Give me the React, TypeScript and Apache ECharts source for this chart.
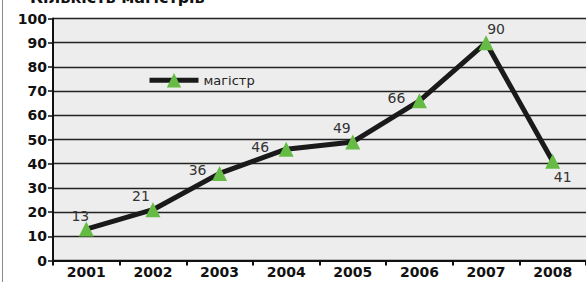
import React, { useEffect, useRef } from "react";
import * as echarts from "echarts";

const categories = ["2001", "2002", "2003", "2004", "2005", "2006", "2007", "2008"];
const values = [13, 21, 36, 46, 49, 66, 90, 41];
const labelOffsets: [number, number][] = [
  [-6, -13],
  [-12, -14],
  [-22, -3],
  [-26, -2],
  [-11, -14],
  [-23, -3],
  [10, -14],
  [10, 16],
];
const seriesName = "магістр";
const titleText = "Кількість магістрів";
const FONT = "DejaVu Sans, Liberation Sans, Arial, sans-serif";

export default function App() {
  const ref = useRef<HTMLDivElement>(null);
  useEffect(() => {
    if (!ref.current) return;
    const chart = echarts.init(ref.current, null, { renderer: "svg" });
    chart.setOption({
      animation: false,
      backgroundColor: "#ffffff",
      textStyle: { fontFamily: FONT },
      grid: { left: 53, top: 18.5, width: 538, height: 242, backgroundColor: "#EDEDED", show: true, borderWidth: 0 },
      graphic: [
        { type: "rect", z: -10, shape: { x: 53, y: 18.5, width: 540, height: 242 }, style: { fill: "#EDEDED" } },
        { type: "line", shape: { x1: 2.5, y1: 0, x2: 2.5, y2: 282 }, style: { stroke: "#8a8a8a", lineWidth: 1 } },
        {
          type: "text",
          left: 30,
          top: -11,
          style: { text: titleText, font: "bold 16px " + FONT, fill: "#111" },
        },
      ],
      legend: {
        left: 147,
        top: 73,
        padding: 0,
        itemWidth: 49,
        itemHeight: 18,
        itemGap: 4,
        lineStyle: { width: 5, color: "#1a1a1a" },
        textStyle: { fontSize: 13, color: "#222", fontFamily: FONT },
        data: [{ name: seriesName }],
      },
      xAxis: {
        type: "category",
        data: categories,
        boundaryGap: true,
        axisLine: { lineStyle: { color: "#111", width: 2 } },
        axisTick: { show: true, length: 5, lineStyle: { color: "#111", width: 2 } },
        axisLabel: { fontWeight: "bold", fontSize: 14, color: "#111", margin: 4, fontFamily: FONT },
        splitLine: { show: false },
      },
      yAxis: {
        type: "value",
        min: 0,
        max: 100,
        interval: 10,
        axisLine: { show: true, lineStyle: { color: "#111", width: 2 } },
        axisTick: { show: true, length: 5, lineStyle: { color: "#111", width: 1.5 } },
        axisLabel: { fontWeight: "bold", fontSize: 14, color: "#111", margin: 6, fontFamily: FONT },
        splitLine: { show: true, lineStyle: { color: "#222", width: 1.3 } },
      },
      series: [
        {
          name: seriesName,
          type: "line",
          data: values.map((v, i) => ({
            value: v,
            label: { offset: labelOffsets[i] },
          })),
          symbol: "triangle",
          symbolSize: 15,
          lineStyle: { color: "#1a1a1a", width: 5 },
          itemStyle: { color: "#66BB44", borderWidth: 0 },
          label: {
            show: true,
            position: "inside",
            fontSize: 14,
            color: "#333",
            fontFamily: FONT,
          },
          z: 3,
        },
      ],
    });
    return () => chart.dispose();
  }, []);
  return <div ref={ref} style={{ width: 586, height: 282, position: "absolute", left: 0, top: 0 }} />;
}
